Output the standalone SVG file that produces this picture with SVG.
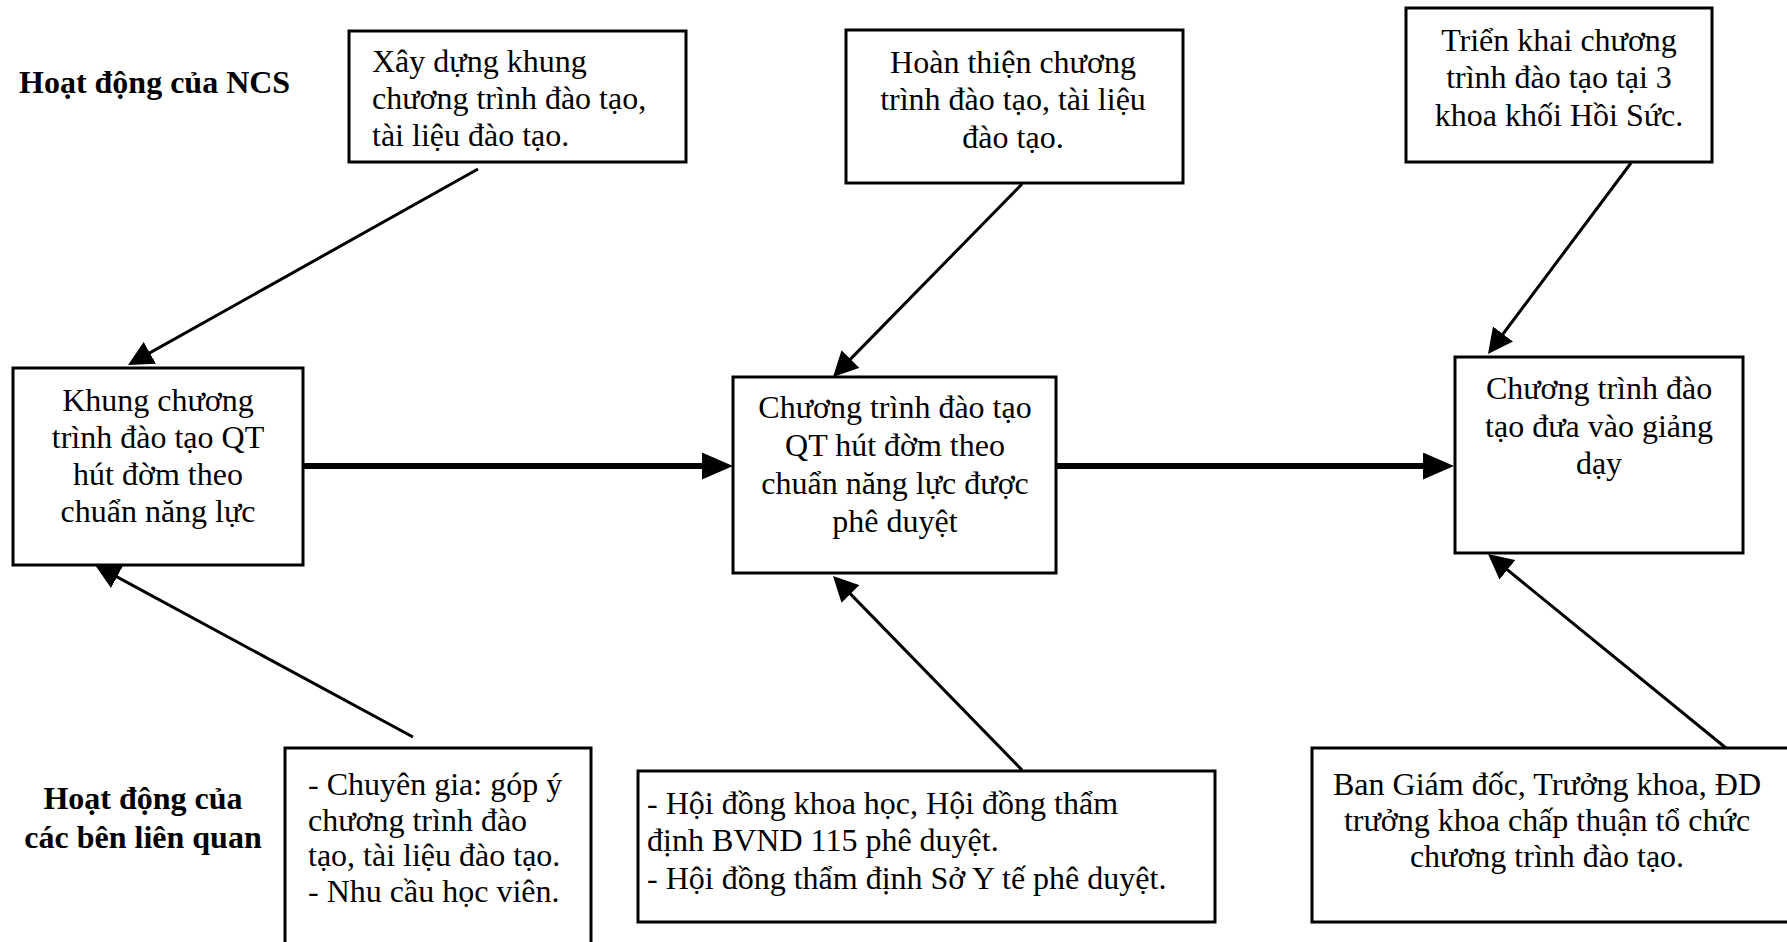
<svg xmlns="http://www.w3.org/2000/svg" width="1787" height="942" viewBox="0 0 1787 942">
  <style>
    .box { fill: #ffffff; stroke: #000000; stroke-width: 3; }
    .t { font-family: "Liberation Serif", "Times New Roman", serif; font-size: 32px; fill: #000000; }
    .c { text-anchor: middle; }
    .b { font-weight: bold; }
    .thin { stroke: #000000; stroke-width: 3; fill: none; marker-end: url(#head); }
    .thick { stroke: #000000; stroke-width: 6; fill: none; marker-end: url(#headBig); }
  </style>
  <defs>
    <marker id="head" markerUnits="userSpaceOnUse" markerWidth="25" markerHeight="25" refX="20" refY="12.5" orient="auto">
      <path d="M0,0 L25,12.5 L0,25 z" fill="#000000"/>
    </marker>
    <marker id="headBig" markerUnits="userSpaceOnUse" markerWidth="31" markerHeight="27" refX="24" refY="13.5" orient="auto">
      <path d="M0,0 L31,13.5 L0,27 z" fill="#000000"/>
    </marker>
  </defs>
  <rect width="1787" height="942" fill="#ffffff"/>

  <!-- row labels -->
  <g id="label-ncs">
    <text class="t b" x="19" y="93">Hoạt động của NCS</text>
  </g>
  <g id="label-stakeholders">
    <text class="t b c" x="143" y="808.5">Hoạt động của</text>
    <text class="t b c" x="143" y="848">các bên liên quan</text>
  </g>

  <!-- connectors -->
  <g id="connectors">
    <line class="thin" x1="478" y1="169" x2="132.4" y2="362.6"/>
    <line class="thin" x1="1022" y1="184" x2="836.5" y2="373.4"/>
    <line class="thin" x1="1631" y1="163" x2="1491" y2="350"/>
    <line class="thin" x1="413" y1="737" x2="99.4" y2="567.4"/>
    <line class="thin" x1="1022" y1="770" x2="836.5" y2="579.6"/>
    <line class="thin" x1="1726" y1="748" x2="1491.9" y2="557.2"/>
    <line class="thick" x1="303" y1="466" x2="726" y2="466"/>
    <line class="thick" x1="1056" y1="466" x2="1447" y2="466"/>
  </g>

  <!-- top row: NCS activities -->
  <g id="node-xay-dung">
    <rect class="box" x="349" y="31" width="337" height="131"/>
    <text class="t" x="372" y="72">Xây dựng khung</text>
    <text class="t" x="372" y="109">chương trình đào tạo,</text>
    <text class="t" x="372" y="146">tài liệu đào tạo.</text>
  </g>
  <g id="node-hoan-thien">
    <rect class="box" x="846" y="30" width="337" height="153"/>
    <text class="t c" x="1013" y="73">Hoàn thiện chương</text>
    <text class="t c" x="1013" y="110">trình đào tạo, tài liệu</text>
    <text class="t c" x="1013" y="147.5">đào tạo.</text>
  </g>
  <g id="node-trien-khai">
    <rect class="box" x="1406" y="8" width="306" height="154"/>
    <text class="t c" x="1559" y="51">Triển khai chương</text>
    <text class="t c" x="1559" y="88">trình đào tạo tại 3</text>
    <text class="t c" x="1559" y="126">khoa khối Hồi Sức.</text>
  </g>

  <!-- middle row: outputs -->
  <g id="node-khung">
    <rect class="box" x="13" y="368" width="290" height="197"/>
    <text class="t c" x="158" y="411">Khung chương</text>
    <text class="t c" x="158" y="448">trình đào tạo QT</text>
    <text class="t c" x="158" y="485">hút đờm theo</text>
    <text class="t c" x="158" y="521.5">chuẩn năng lực</text>
  </g>
  <g id="node-phe-duyet">
    <rect class="box" x="733" y="377" width="323" height="196"/>
    <text class="t c" x="895" y="418">Chương trình đào tạo</text>
    <text class="t c" x="895" y="456">QT hút đờm theo</text>
    <text class="t c" x="895" y="494">chuẩn năng lực được</text>
    <text class="t c" x="895" y="532">phê duyệt</text>
  </g>
  <g id="node-giang-day">
    <rect class="box" x="1455" y="357" width="288" height="196"/>
    <text class="t c" x="1599" y="399">Chương trình đào</text>
    <text class="t c" x="1599" y="437">tạo đưa vào giảng</text>
    <text class="t c" x="1599" y="474">dạy</text>
  </g>

  <!-- bottom row: stakeholder activities -->
  <g id="node-chuyen-gia">
    <rect class="box" x="285" y="748" width="306" height="220"/>
    <text class="t" x="308" y="795">- Chuyên gia: góp ý</text>
    <text class="t" x="308" y="830.5">chương trình đào</text>
    <text class="t" x="308" y="866">tạo, tài liệu đào tạo.</text>
    <text class="t" x="308" y="902">- Nhu cầu học viên.</text>
  </g>
  <g id="node-hoi-dong">
    <rect class="box" x="638" y="771" width="577" height="151"/>
    <text class="t" x="647" y="814">- Hội đồng khoa học, Hội đồng thẩm</text>
    <text class="t" x="647" y="851">định BVND 115 phê duyệt.</text>
    <text class="t" x="647" y="888.5">- Hội đồng thẩm định Sở Y tế phê duyệt.</text>
  </g>
  <g id="node-ban-giam-doc">
    <rect class="box" x="1312" y="748" width="500" height="174"/>
    <text class="t c" x="1547" y="795">Ban Giám đốc, Trưởng khoa, ĐD</text>
    <text class="t c" x="1547" y="830.5">trưởng khoa chấp thuận tổ chức</text>
    <text class="t c" x="1547" y="866.5">chương trình đào tạo.</text>
  </g>
</svg>
